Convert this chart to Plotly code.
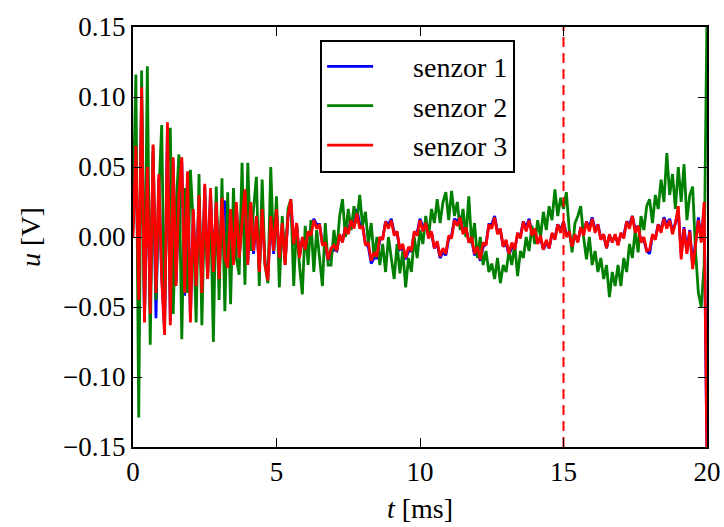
import plotly.graph_objects as go

sample_step_ms = 0.1
n_samples = 201
t_ms = [round(i * sample_step_ms, 1) for i in range(n_samples)]

senzor1 = [
    0.005, 0.060, -0.048, 0.100, -0.058, 0.048, -0.052, 0.060, -0.058, 0.042,
    -0.028, -0.066, 0.078, -0.060, 0.054, -0.033, 0.028, 0.054, -0.042, 0.044,
    -0.058, 0.018, -0.033, 0.028, -0.038, 0.036, -0.028, 0.032, -0.024, 0.023,
    -0.028, 0.026, 0.025, -0.020, 0.018, -0.018, 0.023, -0.014, 0.012, 0.031,
    -0.018, 0.023, -0.012, 0.014, -0.023, 0.018, -0.018, -0.028, 0.014, -0.012,
    0.018, -0.016, 0.009, -0.018, 0.014, 0.024, -0.006, 0.009, -0.014, -0.002,
    -0.009, 0.003, 0.003, 0.013, 0.009, 0.009, -0.005, -0.007, -0.017, -0.011,
    -0.009, -0.010, 0.001, -0.003, 0.007, 0.004, 0.013, 0.009, 0.020, 0.009,
    0.008, -0.005, -0.007, -0.019, -0.015, -0.015, -0.002, -0.001, 0.011, 0.009,
    0.013, 0.003, 0.003, -0.009, -0.008, -0.016, -0.010, -0.010, 0.003, 0.003,
    0.013, 0.007, 0.010, 0.001, 0.003, -0.008, -0.005, -0.015, -0.011, -0.013,
    -0.001, 0.001, 0.013, 0.011, 0.015, 0.004, 0.007, -0.003, -0.002, -0.013,
    -0.010, -0.017, -0.007, -0.005, 0.009, 0.009, 0.015, 0.004, 0.005, -0.007,
    -0.004, -0.013, -0.007, -0.009, 0.002, 0.001, 0.011, 0.007, 0.013, 0.003,
    0.005, -0.004, -0.001, -0.009, -0.004, -0.008, 0.002, -0.001, 0.009, 0.005,
    0.011, 0.002, 0.003, -0.007, 0.001, -0.003, 0.007, 0.003, 0.011, 0.007,
    0.014, 0.005, 0.009, -0.001, 0.001, -0.008, 0.001, -0.003, 0.001, -0.005,
    0.002, 0.001, 0.011, 0.009, 0.015, 0.005, 0.008, -0.003, -0.002, -0.010,
    -0.012, 0.001, -0.001, 0.009, 0.005, 0.014, 0.009, 0.013, 0.004, 0.010,
    0.018, -0.012, 0.007, -0.010, 0.005, -0.020, -0.004, 0.014, -0.002, 0.020,
    -0.160,
]

senzor2 = [
    0.020, 0.116, -0.129, 0.119, -0.060, 0.122, -0.077, 0.065, -0.045, 0.030,
    0.080, -0.060, 0.050, 0.078, -0.055, 0.020, 0.059, -0.073, 0.035, -0.040,
    0.048, 0.010, -0.061, 0.045, -0.063, 0.030, -0.030, 0.025, -0.075, 0.036,
    -0.045, 0.042, -0.053, 0.032, -0.048, 0.035, -0.015, -0.027, 0.053, -0.034,
    0.053, -0.010, 0.020, 0.043, -0.035, 0.041, -0.020, -0.033, 0.050, -0.010,
    0.029, -0.036, 0.015, -0.020, 0.020, 0.027, -0.035, 0.010, -0.020, -0.041,
    0.008, -0.020, 0.012, -0.025, 0.005, -0.015, -0.035, 0.010, -0.020, -0.020,
    0.005, -0.010, 0.015, 0.027, 0.000, 0.020, 0.005, 0.022, 0.010, 0.030,
    0.008, 0.018, -0.005, 0.010, -0.015, 0.000, -0.020, -0.005, -0.025, 0.000,
    -0.015, -0.030, -0.005, -0.026, -0.010, -0.036, -0.015, -0.025, 0.000, -0.015,
    0.005, -0.005, 0.015, 0.000, 0.020, 0.010, 0.027, 0.010, 0.025, 0.032,
    0.012, 0.033, 0.015, 0.025, 0.005, 0.020, 0.000, 0.029, -0.005, 0.010,
    -0.015, 0.000, -0.020, -0.010, -0.025, -0.019, -0.030, -0.015, -0.033, -0.020,
    -0.025, -0.010, -0.020, -0.005, -0.028, -0.010, -0.015, 0.000, -0.010, 0.008,
    -0.005, 0.012, 0.000, 0.018, 0.005, 0.022, 0.012, 0.034, 0.015, 0.028,
    0.020, 0.032, 0.005, -0.011, 0.010, 0.015, 0.022, 0.000, -0.016, 0.000,
    -0.020, -0.010, -0.025, -0.015, -0.030, -0.020, -0.043, -0.025, -0.035, -0.020,
    -0.035, -0.015, -0.025, -0.005, -0.015, 0.005, -0.011, 0.015, 0.005, 0.022,
    0.027, 0.010, 0.030, 0.020, 0.041, 0.025, 0.060, 0.030, 0.045, 0.020,
    0.050, 0.025, 0.052, 0.012, 0.030, 0.036, -0.010, -0.040, -0.050, -0.020,
    0.160,
]

senzor3 = [
    0.000, 0.065, -0.045, 0.107, -0.061, 0.050, -0.055, 0.066, -0.040, 0.045,
    -0.030, -0.070, 0.082, -0.063, 0.057, -0.035, 0.030, 0.057, -0.040, 0.047,
    -0.061, 0.020, -0.035, 0.030, -0.040, 0.038, -0.030, 0.035, -0.025, 0.025,
    -0.030, 0.028, -0.015, -0.022, 0.020, -0.020, 0.025, -0.015, 0.010, 0.034,
    -0.020, 0.025, -0.010, 0.015, -0.025, 0.020, -0.020, -0.031, 0.015, -0.010,
    0.020, -0.015, 0.010, -0.020, 0.015, 0.027, -0.005, 0.010, -0.015, 0.000,
    -0.009, 0.004, 0.001, 0.012, 0.006, 0.009, -0.006, -0.004, -0.016, -0.008,
    -0.006, -0.010, 0.002, -0.004, 0.007, 0.002, 0.012, 0.006, 0.017, 0.006,
    0.008, -0.006, -0.004, -0.017, -0.011, -0.014, 0.000, -0.002, 0.011, 0.006,
    0.012, 0.001, 0.004, -0.009, -0.005, -0.015, -0.007, -0.010, 0.004, 0.001,
    0.012, 0.004, 0.010, -0.001, 0.004, -0.008, -0.003, -0.014, -0.008, -0.012,
    0.001, -0.001, 0.012, 0.008, 0.014, 0.002, 0.007, -0.004, 0.000, -0.012,
    -0.007, -0.016, -0.004, -0.006, 0.009, 0.006, 0.014, 0.002, 0.006, -0.007,
    -0.002, -0.012, -0.004, -0.009, 0.003, -0.001, 0.011, 0.004, 0.012, 0.001,
    0.006, -0.005, 0.001, -0.009, -0.002, -0.008, 0.003, -0.002, 0.009, 0.003,
    0.011, 0.000, 0.004, -0.007, 0.002, -0.004, 0.007, 0.001, 0.011, 0.004,
    0.013, 0.003, 0.009, -0.002, 0.002, -0.008, 0.002, -0.004, 0.002, -0.006,
    0.003, -0.001, 0.011, 0.006, 0.015, 0.003, 0.008, -0.004, 0.000, -0.010,
    -0.009, 0.002, -0.002, 0.009, 0.003, 0.013, 0.006, 0.012, 0.002, 0.010,
    0.022, -0.016, 0.006, -0.012, 0.004, -0.023, -0.006, 0.012, -0.004, 0.025,
    -0.160,
]

series_names = ["senzor 1", "senzor 2", "senzor 3"]
series_colors = ["#0000ff", "#008000", "#ff0000"]
marker_t_ms = 15
x_ticks = [0, 5, 10, 15, 20]
y_ticks = [-0.15, -0.10, -0.05, 0.00, 0.05, 0.10, 0.15]
x_range = [0, 20]
y_range = [-0.15, 0.15]

FONT = "Liberation Serif"
PAD = "\u00a0\u00a0\u00a0\u00a0\u00a0"

fig = go.Figure()
for i, (name, vals, col) in enumerate(zip(series_names, [senzor1, senzor2, senzor3], series_colors)):
    fig.add_trace(go.Scatter(
        x=t_ms, y=vals, mode="lines", name=PAD + name,
        line=dict(color=col, width=2.8),
        legendgroup=f"g{i}",
    ))

fig.add_trace(go.Scatter(
    x=[marker_t_ms, marker_t_ms], y=y_range, mode="lines",
    line=dict(color="#ff0000", width=2, dash="10px,6px"),
    showlegend=False, hoverinfo="skip",
))

axis_common = dict(
    showline=True, linecolor="black", linewidth=2, mirror="ticks",
    ticks="inside", ticklen=9, tickwidth=1, tickcolor="black",
    showgrid=False, zeroline=False, automargin=False,
    tickfont=dict(family=FONT, size=27, color="black"),
)

fig.update_layout(
    width=724, height=527,
    margin=dict(l=133, r=17, t=27, b=80),
    paper_bgcolor="white", plot_bgcolor="white",
    font=dict(family=FONT, size=26, color="black"),
    showlegend=True,
    legend=dict(
        x=0.326, y=0.97, xanchor="left", yanchor="top",
        bgcolor="white", bordercolor="black", borderwidth=2,
        font=dict(family=FONT, size=28, color="black"),
        tracegroupgap=0, itemwidth=46,
        traceorder="grouped",
    ),
    xaxis=dict(
        range=x_range, tickvals=x_ticks, ticktext=[str(v) for v in x_ticks],
        title=dict(text="<i>t</i> [ms]", font=dict(family=FONT, size=28), standoff=12),
        **axis_common,
    ),
    yaxis=dict(
        range=y_range, tickvals=y_ticks, tickformat=".2f",
        title=dict(text="<i>u</i> [V]", font=dict(family=FONT, size=28), standoff=14),
        **axis_common,
    ),
)

fig.write_html(
    "out.html",
    config={"displayModeBar": False},
    post_script="document.body.style.margin='0';document.body.style.overflow='hidden';",
)
